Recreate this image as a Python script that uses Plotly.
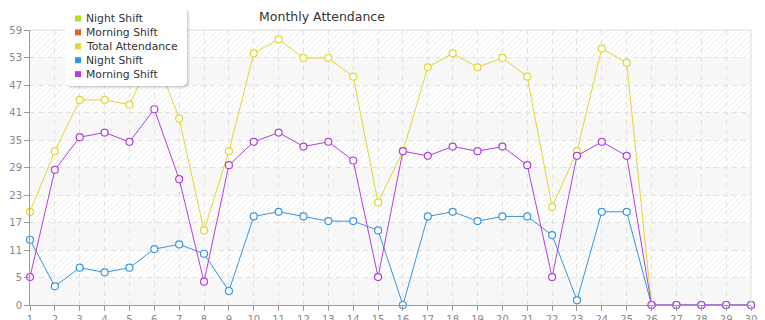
import base64
import plotly.graph_objects as go

# ---------------- data ----------------
days = list(range(1, 31))
total_attendance = [20, 33, 44, 44, 43, 54, 40, 16, 33, 54, 57, 53, 53, 49, 22,
                    33, 51, 54, 51, 53, 49, 21, 33, 55, 52, 0, 0, 0, 0, 0]
night_shift = [14, 4, 8, 7, 8, 12, 13, 11, 3, 19, 20, 19, 18, 18, 16,
               0, 19, 20, 18, 19, 19, 15, 1, 20, 20, 0, 0, 0, 0, 0]
morning_shift = [6, 29, 36, 37, 35, 42, 27, 5, 30, 35, 37, 34, 35, 31, 6,
                 33, 32, 34, 33, 34, 30, 6, 32, 35, 32, 0, 0, 0, 0, 0]

y_max = 59
y_tick_labels = ["0", "5", "11", "17", "23", "29", "35", "41", "47", "53", "59"]

legend_names = ["Night Shift", "Morning Shift", "Total Attendance", "Night Shift", "Morning Shift"]
legend_colors = ["#b6d92b", "#e0622b", "#e3d62e", "#3597e2", "#b43ee0"]

series = [
    ("Total Attendance", total_attendance, "#e3d62e"),
    ("Night Shift", night_shift, "#3597e2"),
    ("Morning Shift", morning_shift, "#b43ee0"),
]

# ---------------- geometry ----------------
W, H = 765, 320
ML, MR, MT, MB = 30, 14, 30, 15
PW, PH = W - ML - MR, H - MT - MB

def px_x(px):
    return (px - ML) / PW

def px_y(py):
    return (H - MB - py) / PH

# ---------------- background (hatched bands) ----------------
n_bands = len(y_tick_labels) - 1
band_h = PH / n_bands
rects = ""
for i in range(n_bands):
    if i % 2 == 0:
        y0 = PH - (i + 1) * band_h
        rects += f"<rect x='0' y='{y0:.2f}' width='{PW}' height='{band_h:.2f}' fill='#f6f6f6' fill-opacity='0.75'/>"
svg = (
    f"<svg xmlns='http://www.w3.org/2000/svg' width='{PW}' height='{PH}'>"
    "<defs><pattern id='h' width='4' height='4' patternUnits='userSpaceOnUse' patternTransform='rotate(45)'>"
    "<line x1='0' y1='0' x2='0' y2='4' stroke='#e8e8e8' stroke-width='1.2'/></pattern></defs>"
    f"<rect width='{PW}' height='{PH}' fill='#ffffff'/>"
    f"<rect width='{PW}' height='{PH}' fill='url(#h)'/>"
    + rects +
    "</svg>"
)
uri = "data:image/svg+xml;base64," + base64.b64encode(svg.encode()).decode()

fig = go.Figure()

for name, vals, color in series:
    fig.add_trace(go.Scatter(
        x=days, y=vals, name=name, mode="lines+markers",
        line=dict(color=color, width=1),
        marker=dict(symbol="circle", size=7, color="white",
                    line=dict(color=color, width=1.2)),
        cliponaxis=False, showlegend=False,
    ))

fig.add_layout_image(dict(source=uri, xref="paper", yref="paper", x=0, y=1,
                          sizex=1, sizey=1, sizing="stretch", xanchor="left",
                          yanchor="top", layer="below"))

shapes = []
# top/right border
shapes.append(dict(type="path", xref="paper", yref="paper", path="M0,1 L1,1 L1,0",
                   line=dict(color="#dddddd", width=1), layer="above"))

# custom legend box
bx0, bx1, by0, by1 = 65, 187, 6, 86
cx, cy = (bx0 + bx1) / 2, (by0 + by1) / 2
hw, hh, r = (bx1 - bx0) / 2, (by1 - by0) / 2, 6
rr = (f"M {-hw + r},{-hh} L {hw - r},{-hh} Q {hw},{-hh} {hw},{-hh + r} "
      f"L {hw},{hh - r} Q {hw},{hh} {hw - r},{hh} L {-hw + r},{hh} "
      f"Q {-hw},{hh} {-hw},{hh - r} L {-hw},{-hh + r} Q {-hw},{-hh} {-hw + r},{-hh} Z")
for off, op in [(3, 0.04), (2, 0.06), (1, 0.08)]:
    shapes.append(dict(type="path", xref="paper", yref="paper", xsizemode="pixel",
                       ysizemode="pixel", xanchor=px_x(cx + off), yanchor=px_y(cy + off),
                       path=rr, fillcolor=f"rgba(0,0,0,{op})", line=dict(width=0)))
shapes.append(dict(type="path", xref="paper", yref="paper", xsizemode="pixel",
                   ysizemode="pixel", xanchor=px_x(cx), yanchor=px_y(cy),
                   path=rr, fillcolor="white", line=dict(width=0)))

annotations = []
item_y0, item_gap = 18.5, 13.9
for i, (nm, col) in enumerate(zip(legend_names, legend_colors)):
    yy = item_y0 + i * item_gap
    shapes.append(dict(type="rect", xref="paper", yref="paper", xsizemode="pixel",
                       ysizemode="pixel", xanchor=px_x(78), yanchor=px_y(yy),
                       x0=-3, x1=3, y0=-3, y1=3, fillcolor=col, line=dict(width=0)))
    annotations.append(dict(text=nm, xref="paper", yref="paper", x=px_x(84), y=px_y(yy),
                            xanchor="left", yanchor="middle", showarrow=False,
                            font=dict(size=10.8, color="#333333", family="DejaVu Sans")))

fig.update_layout(
    width=W, height=H,
    margin=dict(l=ML, r=MR, t=MT, b=MB, pad=0, autoexpand=False),
    paper_bgcolor="white", plot_bgcolor="rgba(0,0,0,0)",
    font=dict(family="DejaVu Sans", color="#888888", size=10),
    title=dict(text="Monthly Attendance", xref="paper", x=px_x(322), xanchor="center",
               yref="container", y=1 - 17 / H, yanchor="middle", automargin=False,
               font=dict(size=12.5, color="#333333", family="DejaVu Sans")),
    showlegend=False,
    shapes=shapes, annotations=annotations,
    xaxis=dict(range=[1, 30], tickmode="array", tickvals=days, ticktext=[str(d) for d in days],
               automargin=False,
               showgrid=True, gridcolor="#e2e2e2", griddash="5px,4px", gridwidth=1,
               showline=True, linecolor="#999999", linewidth=1, ticks="outside", ticklen=5,
               tickcolor="#999999", tickfont=dict(size=10, color="#888888"), zeroline=False),
    yaxis=dict(range=[0, y_max], tickmode="array",
               tickvals=[y_max * i / n_bands for i in range(n_bands + 1)], ticktext=y_tick_labels,
               automargin=False,
               showgrid=True, gridcolor="#e2e2e2", griddash="5px,4px", gridwidth=1,
               showline=True, linecolor="#999999", linewidth=1, ticks="outside", ticklen=5,
               tickcolor="#999999", tickfont=dict(size=10, color="#888888"), zeroline=False),
)

fig.write_html("out.html")
